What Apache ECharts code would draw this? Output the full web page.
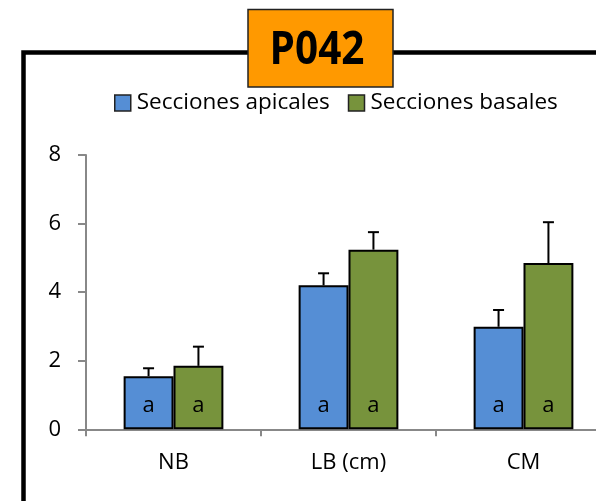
<!DOCTYPE html>
<html>
<head>
<meta charset="utf-8">
<script src="https://cdn.jsdelivr.net/npm/echarts@6/dist/echarts.min.js"></script>
<style>html,body{margin:0;padding:0;background:#fff;overflow:hidden;width:596px;height:501px;}#c{width:630px;height:501px;}</style>
</head>
<body>
<div id="c"></div>
<script>
const categories = ['NB', 'LB (cm)', 'CM'];
const seriesNames = ['Secciones apicales', 'Secciones basales'];
const apical = [1.55, 4.20, 2.99];
const apicalErr = [0.23, 0.35, 0.49];
const basal = [1.85, 5.24, 4.85];
const basalErr = [0.56, 0.51, 1.19];
const letters = ['a', 'a', 'a'];
const yTicks = [0, 2, 4, 6, 8];
const titleText = 'P042';

const FONT = '"Open Sans", Lato, sans-serif';
const chart = echarts.init(document.getElementById('c'), null, {renderer: 'canvas'});
const GAP = 0.43;

function errSeries(vals, errs, side) {
  return {
    type: 'custom',
    silent: true,
    z: 5,
    data: vals.map((v, i) => [i, v, errs[i]]),
    renderItem: function (params, api) {
      const i = api.value(0), v = api.value(1), e = api.value(2);
      const band = api.size([1, 0])[0];
      const bw = band * (1 - GAP) / 2;
      const base = api.coord([i, v]);
      const top = api.coord([i, v + e]);
      const x = base[0] + side * bw / 2;
      const cap = 5.5;
      return {
        type: 'group',
        children: [
          {type: 'line', shape: {x1: x, y1: base[1], x2: x, y2: top[1]}, style: {stroke: '#000', lineWidth: 2}},
          {type: 'line', shape: {x1: x - cap, y1: top[1], x2: x + cap, y2: top[1]}, style: {stroke: '#000', lineWidth: 2}}
        ]
      };
    }
  };
}

const labelStyle = {
  show: true,
  position: 'insideBottom',
  distance: 13,
  formatter: p => letters[p.dataIndex],
  color: '#000',
  fontSize: 22,
  fontFamily: FONT
};

chart.setOption({
  animation: false,
  backgroundColor: '#fff',
  textStyle: {fontFamily: FONT},
  grid: {left: 86, top: 155, right: 19, bottom: 71.7, containLabel: false},
  legend: {
    data: seriesNames,
    left: 114, top: 91.5,
    padding: 0,
    itemWidth: 16, itemHeight: 16,
    itemGap: 18,
    icon: 'rect',
    itemStyle: {borderColor: '#222', borderWidth: 1.5},
    textStyle: {fontSize: 22.5, color: '#000', fontFamily: FONT, padding: [0, 0, 0, 1]}
  },
  xAxis: {
    type: 'category',
    data: categories,
    axisLine: {lineStyle: {color: '#888', width: 2}},
    axisTick: {show: true, length: 7, lineStyle: {color: '#888', width: 2}},
    axisLabel: {color: '#000', fontSize: 22, margin: 22, fontFamily: FONT}
  },
  yAxis: {
    type: 'value',
    min: yTicks[0], max: yTicks[yTicks.length - 1], interval: 2,
    splitLine: {show: false},
    axisLine: {show: true, lineStyle: {color: '#888', width: 2}},
    axisTick: {show: true, length: 8, lineStyle: {color: '#888', width: 2}},
    axisLabel: {color: '#000', fontSize: 22, margin: 25, fontFamily: FONT}
  },
  series: [
    {
      name: seriesNames[0], type: 'bar', data: apical,
      barGap: '0%', barCategoryGap: (GAP * 100) + '%',
      itemStyle: {color: '#558ED5', borderColor: '#000', borderWidth: 2},
      label: labelStyle
    },
    {
      name: seriesNames[1], type: 'bar', data: basal,
      barGap: '0%', barCategoryGap: (GAP * 100) + '%',
      itemStyle: {color: '#77933C', borderColor: '#000', borderWidth: 2},
      label: labelStyle
    },
    errSeries(apical, apicalErr, -1),
    errSeries(basal, basalErr, 1)
  ],
  graphic: [
    {type: 'rect', z: 0, shape: {x: 23.5, y: 52.5, width: 700, height: 600}, style: {fill: null, stroke: '#000', lineWidth: 4.5}},
    {type: 'rect', z: 10, shape: {x: 248, y: 9.5, width: 145, height: 77.5}, style: {fill: '#FF9900', stroke: '#222', lineWidth: 1.5}},
    {type: 'text', z: 11, x: 317, y: 51, scaleX: 0.88, originX: 0, originY: 0, style: {text: titleText, fill: '#000', font: 'bold 46px ' + FONT, align: 'center', verticalAlign: 'middle'}}
  ]
});
</script>
</body>
</html>
